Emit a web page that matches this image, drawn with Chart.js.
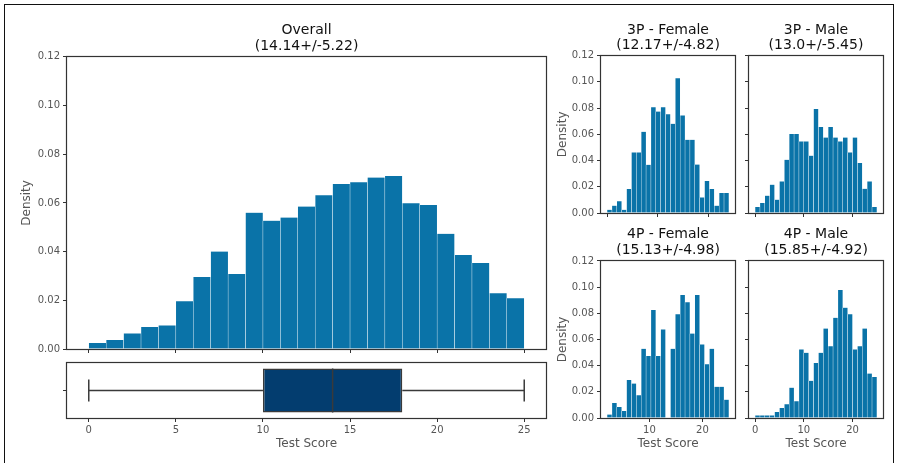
<!DOCTYPE html>
<html>
<head>
<meta charset="utf-8">
<script src="https://cdn.jsdelivr.net/npm/chart.js@4.4.0/dist/chart.umd.min.js"></script>
<style>
  body { margin: 0; background: #fff; width: 898px; height: 463px; overflow: hidden; position: relative; }
  canvas { position: absolute; }
  #frame { position: absolute; left: 4px; top: 4px; width: 888px; height: 480px; border: 1px solid #111; }
</style>
</head>
<body>
<div id="frame"></div>
<canvas id="overall" width="560" height="358" style="left:0;top:0"></canvas>
<canvas id="box" width="560" height="105" style="left:0;top:358px"></canvas>
<canvas id="f3" width="190" height="222" style="left:548px;top:0"></canvas>
<canvas id="m3" width="155" height="222" style="left:738px;top:0"></canvas>
<canvas id="f4" width="190" height="241" style="left:548px;top:222px"></canvas>
<canvas id="m4" width="155" height="241" style="left:738px;top:222px"></canvas>
<script>
  // density per bin
  const overallValues = [0.0025, 0.0037, 0.0064, 0.0090, 0.0097, 0.0196, 0.0296, 0.0400, 0.0308, 0.0560,
    0.0527, 0.0540, 0.0585, 0.0632, 0.0678, 0.0685, 0.0704, 0.0711, 0.0599, 0.0592,
    0.0473, 0.0386, 0.0353, 0.0229, 0.0208];
  const female3Values = [0.0025, 0.0056, 0.0089, 0.0025, 0.0183, 0.0462, 0.0462, 0.0620, 0.0368, 0.0807,
    0.0774, 0.0807, 0.0754, 0.0680, 0.1028, 0.0744, 0.0558, 0.0558, 0.0370, 0.0119,
    0.0244, 0.0183, 0.0056, 0.0152, 0.0152];
  const male3Values = [0.0046, 0.0076, 0.0132, 0.0216, 0.0102, 0.0241, 0.0406, 0.0602, 0.0602, 0.0546,
    0.0546, 0.0437, 0.0794, 0.0655, 0.0576, 0.0655, 0.0576, 0.0546, 0.0576, 0.0462,
    0.0576, 0.0381, 0.0185, 0.0241, 0.0046];
  const female4Values = [0.0026, 0.0115, 0.0084, 0.0054, 0.0291, 0.0263, 0.0174, 0.0529, 0.0473, 0.0825,
    0.0473, 0.0677, 0, 0.0529, 0.0792, 0.0940, 0.0884, 0.0646, 0.0940, 0.0562,
    0.0411, 0.0529, 0.0238, 0.0238, 0.0140];
  const male4Values = [0.0020, 0.0020, 0.0020, 0.0020, 0.0046, 0.0077, 0.0105, 0.0232, 0.0128, 0.0524,
    0.0498, 0.0284, 0.0421, 0.0498, 0.0684, 0.0549, 0.0766, 0.0978, 0.0843, 0.0792,
    0.0524, 0.0549, 0.0684, 0.0340, 0.0314];

  // bin layout (first edge, width) of each histogram
  const overallBins = [0, 1];
  const female3Bins = [0, 0.96];
  const male3Bins = [0, 1];
  const female4Bins = [2, 0.92];
  const male4Bins = [0, 1];

  // box plot of overall scores
  const boxMin = 0, boxQ1 = 10, boxMedian = 14, boxQ3 = 18, boxMax = 25;

  const overallTitle = ['Overall', '(14.14+/-5.22)'];
  const female3Title = ['3P - Female', '(12.17+/-4.82)'];
  const male3Title = ['3P - Male', '(13.0+/-5.45)'];
  const female4Title = ['4P - Female', '(15.13+/-4.98)'];
  const male4Title = ['4P - Male', '(15.85+/-4.92)'];

  const densityTicks = [0, 0.02, 0.04, 0.06, 0.08, 0.10, 0.12];
  const overallTicks = [0, 5, 10, 15, 20, 25];
  const smallTicks = [0, 10, 20];

  const barColor = '#0a73a8';
  const boxColor = '#033d6f';
  const axisColor = '#333';
  const textColor = '#555';

  Chart.defaults.font.family = "'DejaVu Sans', sans-serif";

  // matplotlib style frame on all four sides
  const frame = {
    id: 'frame',
    afterDatasetsDraw(chart) {
      const a = chart.chartArea, ctx = chart.ctx;
      const l = Math.round(a.left) - 0.5, t = Math.round(a.top) - 0.5;
      const r = Math.round(a.right) + 0.5, b = Math.round(a.bottom) + 0.5;
      ctx.save();
      ctx.strokeStyle = axisColor;
      ctx.lineWidth = 1.2;
      ctx.strokeRect(l, t, r - l, b - t);
      ctx.restore();
    }
  };

  function xScale(min, max, ticks, labels) {
    return {
      type: 'linear', min: min, max: max, offset: false,
      afterBuildTicks: s => { s.ticks = ticks.filter(v => v >= min && v <= max).map(v => ({ value: v })); },
      afterFit: s => { s.height = labels ? 45 : 9; },
      border: { display: false },
      grid: { offset: false, drawOnChartArea: false, drawTicks: true, tickLength: 4, color: axisColor },
      ticks: { display: labels, color: textColor, font: { size: 10 }, padding: 2, maxRotation: 0, autoSkip: false },
      title: { display: labels, text: 'Test Score', color: textColor, font: { size: 12 }, padding: { top: 0, bottom: 12 } }
    };
  }

  function yScale(width, labels, titlePad) {
    return {
      type: 'linear', min: 0, max: 0.12,
      afterBuildTicks: s => { s.ticks = densityTicks.map(v => ({ value: v })); },
      afterFit: s => { s.width = width; },
      border: { display: false },
      grid: { drawOnChartArea: false, drawTicks: true, tickLength: 4, color: axisColor },
      ticks: { display: labels, color: textColor, font: { size: 10 }, padding: 3, autoSkip: false,
        callback: v => v.toFixed(2) },
      title: { display: labels, text: 'Density', color: textColor, font: { size: 12 }, padding: { top: titlePad, bottom: 0 } }
    };
  }

  function histogram(id, values, bins, title, titlePad, x, y, padding) {
    const lo = bins[0], hi = bins[0] + bins[1] * values.length;
    const margin = (hi - lo) * 0.05;
    const data = values.map((v, i) => ({ x: lo + bins[1] * (i + 0.5), y: v }));
    return new Chart(document.getElementById(id), {
      type: 'bar',
      data: {
        datasets: [{
          data: data,
          backgroundColor: barColor,
          borderColor: 'rgba(255,255,255,0.75)',
          borderWidth: { left: 0.5, right: 0.5, top: 0, bottom: 0 },
          barPercentage: 1,
          categoryPercentage: 1
        }]
      },
      options: {
        responsive: false,
        animation: false,
        layout: { padding: padding },
        plugins: {
          legend: { display: false },
          tooltip: { enabled: false },
          title: { display: true, text: title, fullSize: false, color: '#111',
            font: { size: 14, weight: 'normal', lineHeight: 1.12 }, padding: titlePad }
        },
        scales: {
          x: xScale(lo - margin, hi + margin, x.ticks, x.labels),
          y: yScale(y.width, y.labels, y.titlePad)
        }
      },
      plugins: [frame]
    });
  }

  histogram('overall', overallValues, overallBins, overallTitle, { top: 22.5, bottom: 3 },
    { ticks: overallTicks, labels: false }, { width: 67, labels: true, titlePad: 20 },
    { left: 0, right: 14, top: 0, bottom: 0 });

  histogram('f3', female3Values, female3Bins, female3Title, { top: 22.3, bottom: 2 },
    { ticks: smallTicks, labels: false }, { width: 53, labels: true, titlePad: 8 },
    { left: 0, right: 3, top: 0, bottom: 0 });
  histogram('m3', male3Values, male3Bins, male3Title, { top: 22.3, bottom: 2 },
    { ticks: smallTicks, labels: false }, { width: 11, labels: false, titlePad: 0 },
    { left: 0, right: 10, top: 0, bottom: 0 });
  histogram('f4', female4Values, female4Bins, female4Title, { top: 4.6, bottom: 3 },
    { ticks: smallTicks, labels: true }, { width: 53, labels: true, titlePad: 8 },
    { left: 0, right: 3, top: 0, bottom: 0 });
  histogram('m4', male4Values, male4Bins, male4Title, { top: 4.6, bottom: 3 },
    { ticks: smallTicks, labels: true }, { width: 11, labels: false, titlePad: 0 },
    { left: 0, right: 10, top: 0, bottom: 0 });

  // box plot under the overall histogram, same x range
  const boxLo = overallBins[0], boxHi = overallBins[0] + overallBins[1] * overallValues.length;
  const boxMargin = (boxHi - boxLo) * 0.05;
  const lineStyle = { type: 'line', borderColor: '#3a3a3a', borderWidth: 1.5, pointRadius: 0, fill: false };

  new Chart(document.getElementById('box'), {
    type: 'bar',
    data: {
      datasets: [
        Object.assign({ data: [{ x: boxMedian, y: -0.4 }, { x: boxMedian, y: 0.4 }], order: 0 }, lineStyle),
        {
          type: 'bar', indexAxis: 'y', order: 1,
          data: [{ y: 0, x: [boxQ1, boxQ3] }],
          backgroundColor: boxColor, borderColor: '#3a3a3a', borderWidth: 1.5, borderSkipped: false,
          barPercentage: 0.8, categoryPercentage: 1
        },
        Object.assign({ data: [{ x: boxMin, y: 0 }, { x: boxQ1, y: 0 }], order: 2 }, lineStyle),
        Object.assign({ data: [{ x: boxQ3, y: 0 }, { x: boxMax, y: 0 }], order: 2 }, lineStyle),
        Object.assign({ data: [{ x: boxMin, y: -0.2 }, { x: boxMin, y: 0.2 }], order: 2 }, lineStyle),
        Object.assign({ data: [{ x: boxMax, y: -0.2 }, { x: boxMax, y: 0.2 }], order: 2 }, lineStyle)
      ]
    },
    options: {
      responsive: false,
      animation: false,
      layout: { padding: { left: 0, right: 14, top: 5, bottom: 0 } },
      plugins: { legend: { display: false }, tooltip: { enabled: false } },
      scales: {
        x: xScale(boxLo - boxMargin, boxHi + boxMargin, overallTicks, true),
        y: {
          type: 'linear', min: -0.5, max: 0.5, offset: false,
          afterBuildTicks: s => { s.ticks = [{ value: 0 }]; },
          afterFit: s => { s.width = 67; },
          border: { display: false },
          grid: { offset: false, drawOnChartArea: false, drawTicks: true, tickLength: 4, color: axisColor },
          ticks: { display: false }
        }
      }
    },
    plugins: [frame]
  });
</script>
</body>
</html>
